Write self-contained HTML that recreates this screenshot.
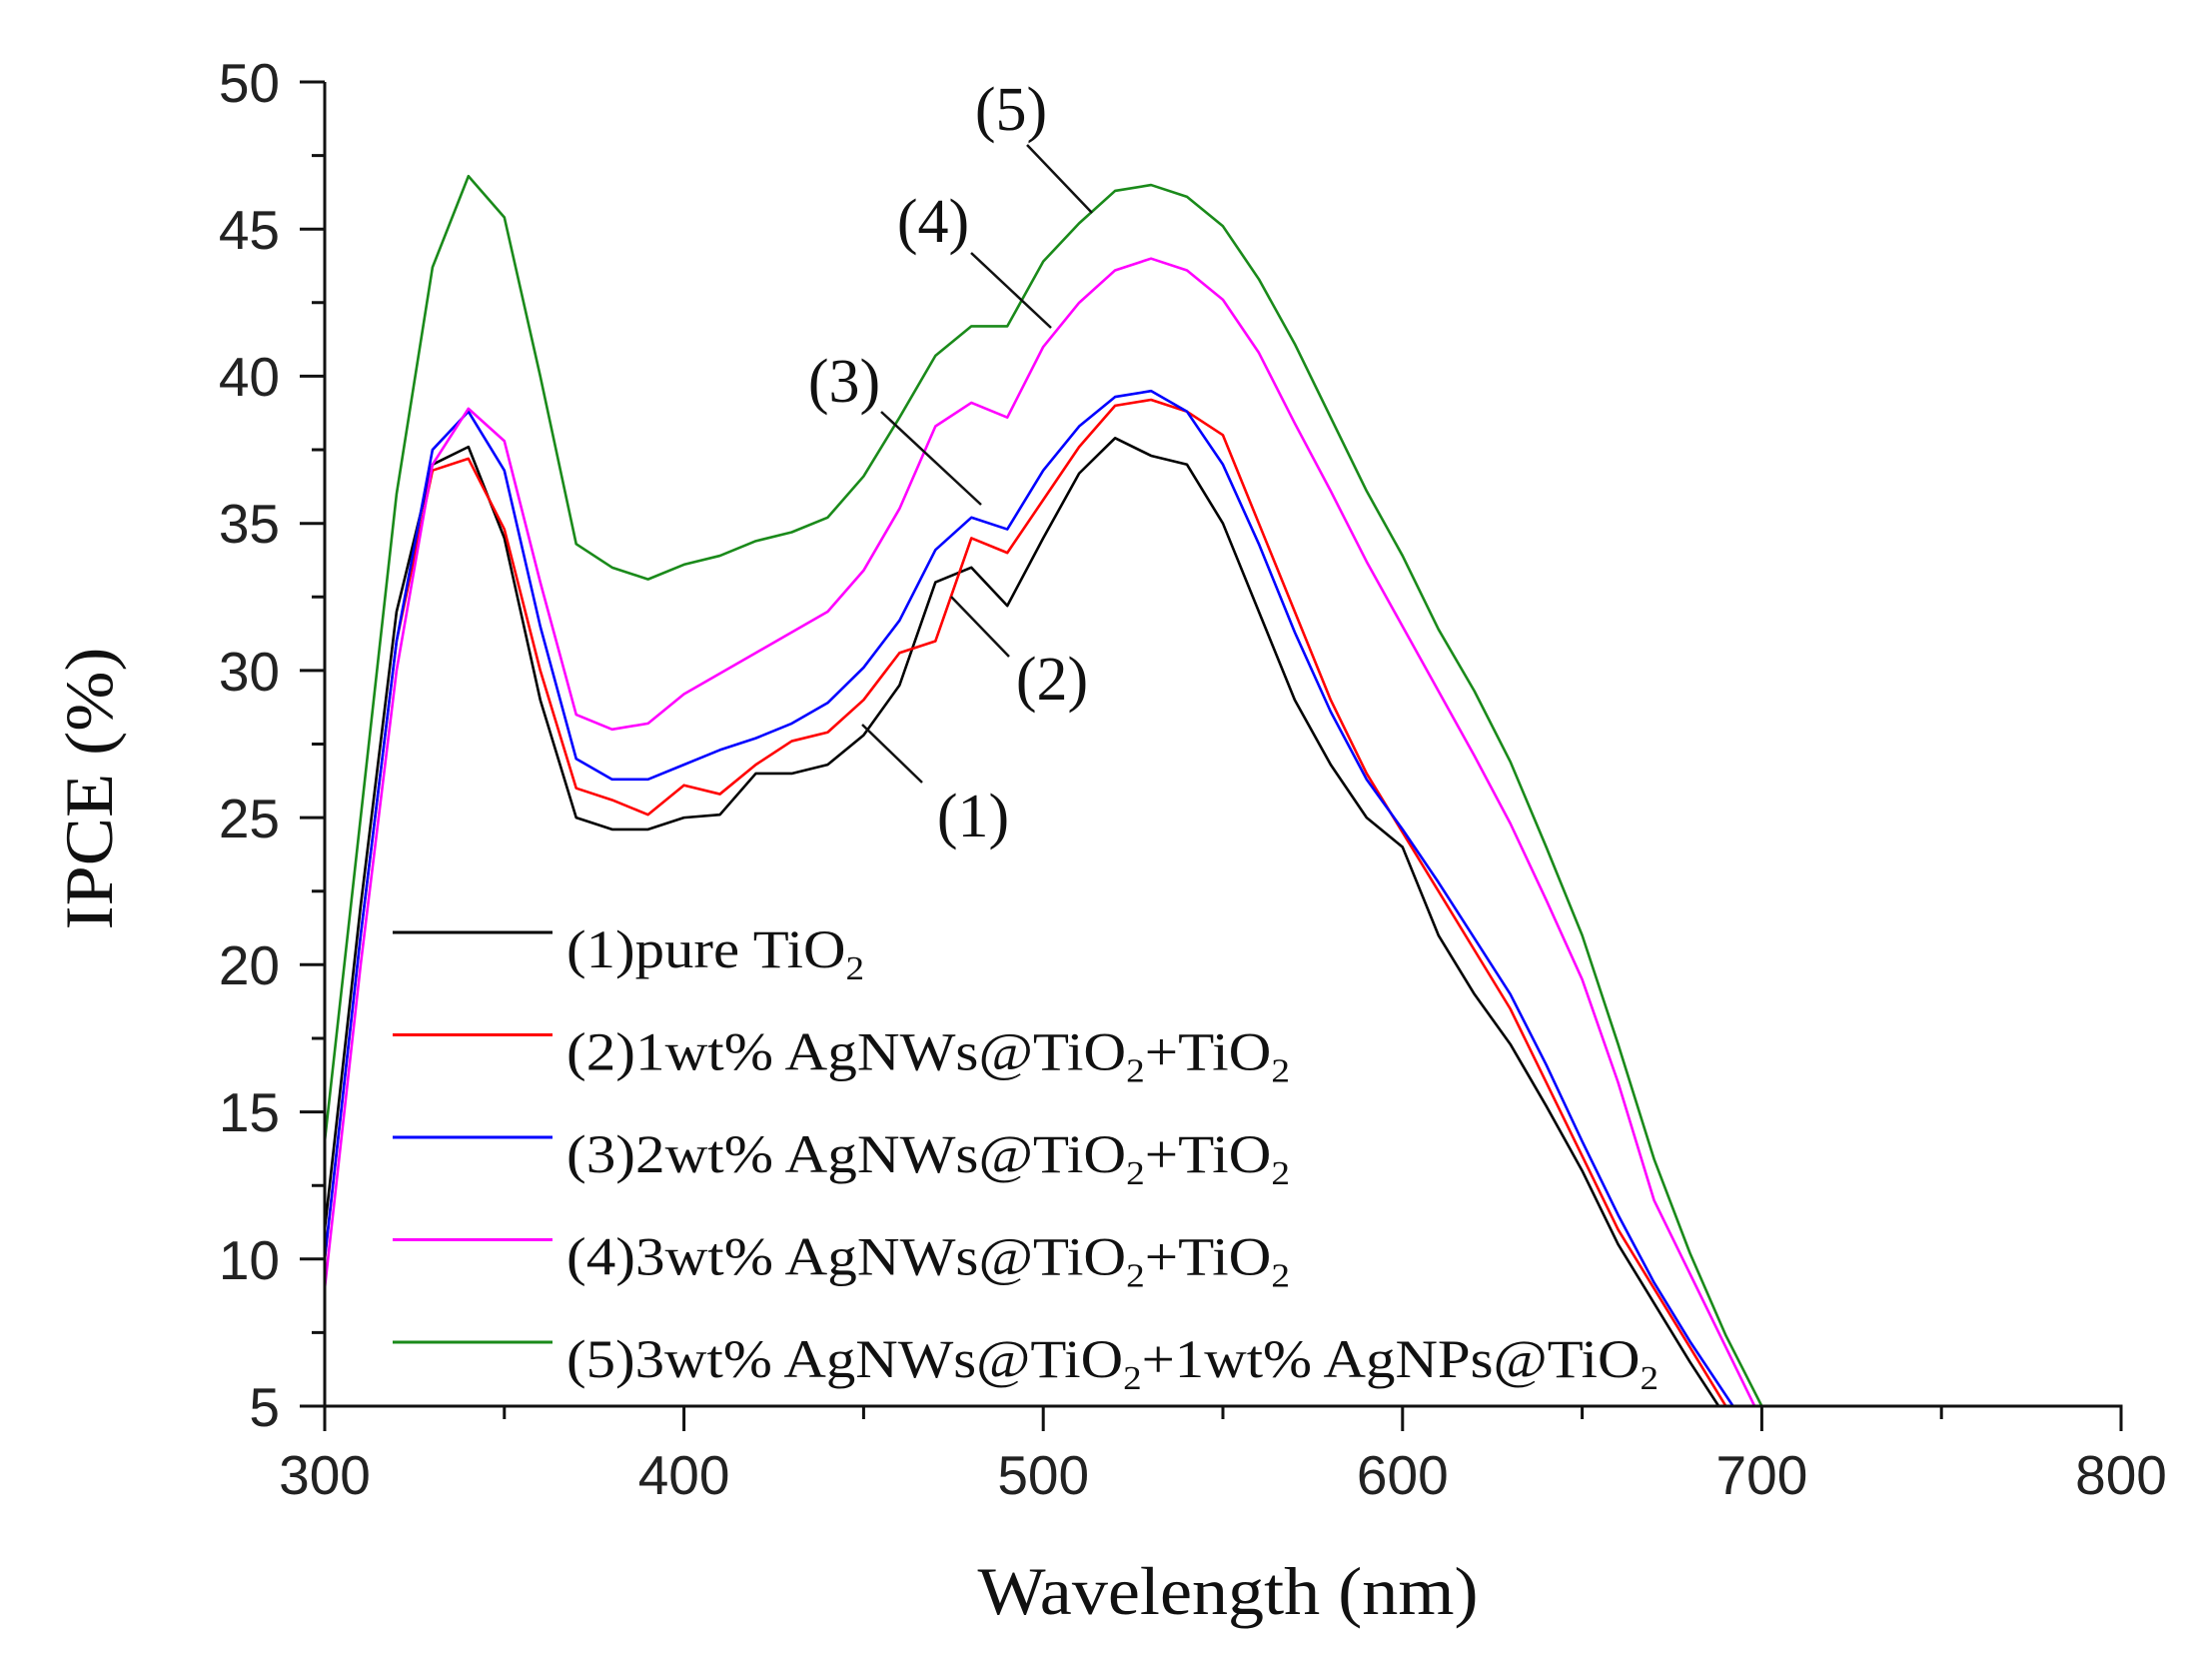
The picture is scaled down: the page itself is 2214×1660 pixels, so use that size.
<!DOCTYPE html>
<html><head><meta charset="utf-8"><style>
html,body{margin:0;padding:0;background:#fff;}
svg{display:block;}
.t{font-family:"Liberation Sans",sans-serif;font-size:55px;fill:#222;}
.s{font-family:"Liberation Serif",serif;fill:#111;}
</style></head><body>
<svg width="2214" height="1660" viewBox="0 0 2214 1660" xmlns="http://www.w3.org/2000/svg">
<rect width="2214" height="1660" fill="#fff"/>
<g fill="none" stroke-width="2.6" stroke-linejoin="round" transform="translate(325,1407) scale(3.596,-29.444) translate(-300,-5)">
<polyline vector-effect="non-scaling-stroke" stroke="#000" points="300,11 310,22 320,32 330,37 340,37.6 350,34.5 360,29 370,25 380,24.6 390,24.6 400,25 410,25.1 420,26.5 430,26.5 440,26.8 450,27.8 460,29.5 470,33 480,33.5 490,32.2 500,34.5 510,36.7 520,37.9 530,37.3 540,37 550,35 560,32 570,29 580,26.8 590,25 600,24 610,21 620,19 630,17.3 640,15.2 650,13 660,10.5 670,8.5 680,6.5 688,5"/>
<polyline vector-effect="non-scaling-stroke" stroke="#f00" points="300,10 310,21 320,31 330,36.8 340,37.2 350,34.8 360,30 370,26 380,25.6 390,25.1 400,26.1 410,25.8 420,26.8 430,27.6 440,27.9 450,29 460,30.6 470,31 480,34.5 490,34 500,35.8 510,37.6 520,39 530,39.2 540,38.8 550,38 560,35 570,32 580,29 590,26.5 600,24.5 610,22.5 620,20.5 630,18.5 640,16 650,13.5 660,11 670,9 680,7 690,5"/>
<polyline vector-effect="non-scaling-stroke" stroke="#00f" points="300,10 310,21 320,31 330,37.5 340,38.8 350,36.8 360,31.5 370,27 380,26.3 390,26.3 400,26.8 410,27.3 420,27.7 430,28.2 440,28.9 450,30.1 460,31.7 470,34.1 480,35.2 490,34.8 500,36.8 510,38.3 520,39.3 530,39.5 540,38.8 550,37 560,34.3 570,31.3 580,28.6 590,26.3 600,24.6 610,22.8 620,20.9 630,19 640,16.6 650,14 660,11.5 670,9.2 680,7.2 692,5"/>
<polyline vector-effect="non-scaling-stroke" stroke="#f0f" points="300,9 310,20 320,30 330,37 340,38.9 350,37.8 360,33 370,28.5 380,28 390,28.2 400,29.2 410,29.9 420,30.6 430,31.3 440,32 450,33.4 460,35.5 470,38.3 480,39.1 490,38.6 500,41 510,42.5 520,43.6 530,44 540,43.6 550,42.6 560,40.8 570,38.4 580,36.1 590,33.7 600,31.5 610,29.3 620,27.1 630,24.8 640,22.2 650,19.5 660,16 670,12 680,9.5 690,7 698,5"/>
<polyline vector-effect="non-scaling-stroke" stroke="#1a8a1a" points="300,14 310,25 320,36 330,43.7 340,46.8 350,45.4 360,40 370,34.3 380,33.5 390,33.1 400,33.6 410,33.9 420,34.4 430,34.7 440,35.2 450,36.6 460,38.6 470,40.7 480,41.7 490,41.7 500,43.9 510,45.2 520,46.3 530,46.5 540,46.1 550,45.1 560,43.3 570,41.1 580,38.6 590,36.1 600,33.9 610,31.4 620,29.3 630,26.9 640,24 650,21 660,17.3 670,13.4 680,10.2 690,7.4 700,5"/>
</g>
<!-- axes -->
<g stroke="#111" stroke-width="3" fill="none">
<path d="M325,82 V1407 H2123 V1432"/>
<path d="M300,82H325 M300,229.2H325 M300,376.4H325 M300,523.7H325 M300,670.9H325 M300,818.1H325 M300,965.3H325 M300,1112.6H325 M300,1259.8H325 M300,1407H325"/>
<path d="M312,155.6H325 M312,302.8H325 M312,450H325 M312,597.3H325 M312,744.5H325 M312,891.7H325 M312,1039H325 M312,1186.2H325 M312,1333.4H325"/>
<path d="M325,1407V1432 M684.6,1407V1432 M1044.2,1407V1432 M1403.8,1407V1432 M1763.4,1407V1432"/>
<path d="M504.8,1407V1420 M864.4,1407V1420 M1224,1407V1420 M1583.6,1407V1420 M1943.2,1407V1420"/>
</g>
<g class="t" text-anchor="end">
<text x="280" y="102">50</text><text x="280" y="249">45</text><text x="280" y="396">40</text>
<text x="280" y="543">35</text><text x="280" y="691">30</text><text x="280" y="838">25</text>
<text x="280" y="985">20</text><text x="280" y="1132">15</text><text x="280" y="1280">10</text>
<text x="280" y="1427">5</text>
</g>
<g class="t" text-anchor="middle">
<text x="325" y="1495">300</text><text x="684.6" y="1495">400</text><text x="1044.2" y="1495">500</text>
<text x="1403.8" y="1495">600</text><text x="1763.4" y="1495">700</text><text x="2123" y="1495">800</text>
</g>
<text class="s" font-size="68" x="1229" y="1615" text-anchor="middle" textLength="501" lengthAdjust="spacingAndGlyphs">Wavelength (nm)</text>
<text class="s" font-size="68" transform="translate(112,789) rotate(-90)" text-anchor="middle" textLength="283" lengthAdjust="spacingAndGlyphs">IPCE (%)</text>
<!-- legend -->
<g stroke-width="3">
<line x1="393" y1="933" x2="553" y2="933" stroke="#000"/>
<line x1="393" y1="1035.5" x2="553" y2="1035.5" stroke="#f00"/>
<line x1="393" y1="1138" x2="553" y2="1138" stroke="#00f"/>
<line x1="393" y1="1240.5" x2="553" y2="1240.5" stroke="#f0f"/>
<line x1="393" y1="1343" x2="553" y2="1343" stroke="#1a8a1a"/>
</g>
<g class="s" font-size="54">
<text x="567" y="968" textLength="298" lengthAdjust="spacingAndGlyphs">(1)pure TiO<tspan font-size="34" dy="12">2</tspan></text>
<text x="567" y="1070.5" textLength="724" lengthAdjust="spacingAndGlyphs">(2)1wt% AgNWs@TiO<tspan font-size="34" dy="12">2</tspan><tspan dy="-12">+TiO</tspan><tspan font-size="34" dy="12">2</tspan></text>
<text x="567" y="1173" textLength="724" lengthAdjust="spacingAndGlyphs">(3)2wt% AgNWs@TiO<tspan font-size="34" dy="12">2</tspan><tspan dy="-12">+TiO</tspan><tspan font-size="34" dy="12">2</tspan></text>
<text x="567" y="1275.5" textLength="724" lengthAdjust="spacingAndGlyphs">(4)3wt% AgNWs@TiO<tspan font-size="34" dy="12">2</tspan><tspan dy="-12">+TiO</tspan><tspan font-size="34" dy="12">2</tspan></text>
<text x="567" y="1378" textLength="1093" lengthAdjust="spacingAndGlyphs">(5)3wt% AgNWs@TiO<tspan font-size="34" dy="12">2</tspan><tspan dy="-12">+1wt% AgNPs@TiO</tspan><tspan font-size="34" dy="12">2</tspan></text>
</g>
<!-- annotations -->
<g class="s" font-size="62" text-anchor="middle">
<text x="1012" y="130">(5)</text>
<text x="934" y="242">(4)</text>
<text x="845" y="402">(3)</text>
<text x="1053" y="700">(2)</text>
<text x="974" y="837">(1)</text>
</g>
<g stroke="#111" stroke-width="2.5">
<line x1="1028" y1="145" x2="1093" y2="213"/>
<line x1="972" y1="253" x2="1052" y2="328"/>
<line x1="882" y1="412" x2="982" y2="505"/>
<line x1="1010" y1="657" x2="952" y2="597"/>
<line x1="923" y1="783" x2="863" y2="725"/>
</g>
</svg>
</body></html>
